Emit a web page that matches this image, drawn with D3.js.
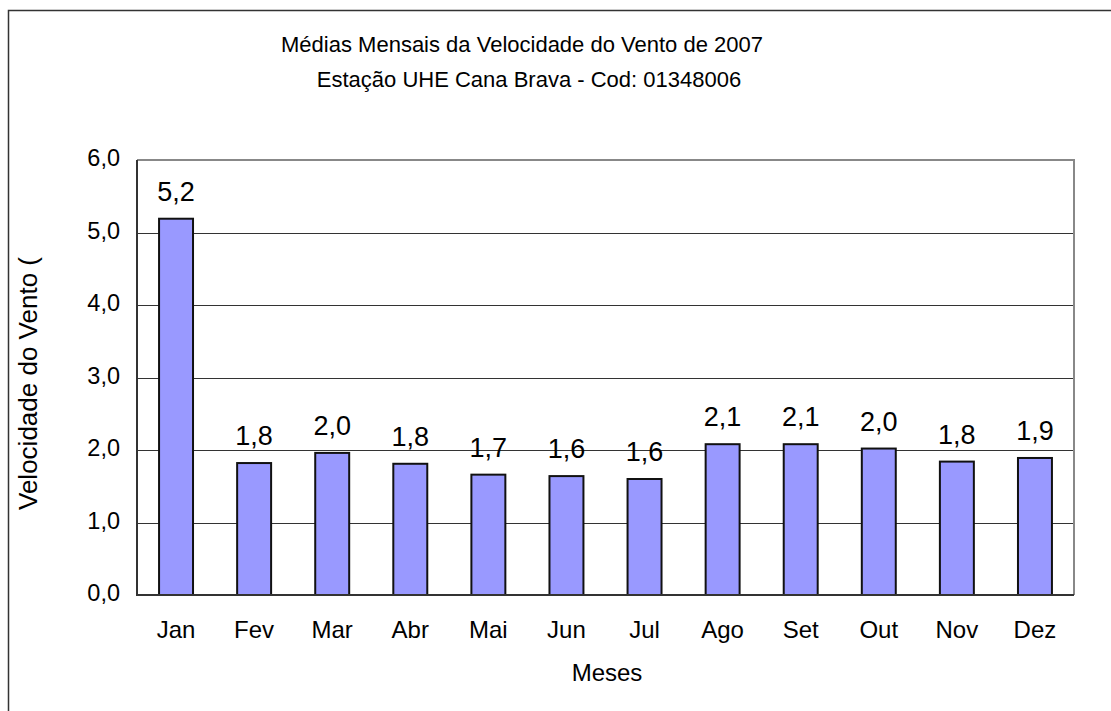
<!DOCTYPE html>
<html>
<head>
<meta charset="utf-8">
<script src="https://cdn.jsdelivr.net/npm/d3@7"></script>
<style>
body { margin: 0; background: #fff; }
svg { font-family: "Liberation Sans", Arial, sans-serif; }
</style>
</head>
<body>
<svg width="1111" height="711"></svg>
<script>
var width = 1111,
    height = 711;

var meses = ['Jan','Fev','Mar','Abr','Mai','Jun','Jul','Ago','Set','Out','Nov','Dez'];
var velocidade = [5.19, 1.82, 1.96, 1.81, 1.66, 1.64, 1.60, 2.08, 2.08, 2.02, 1.84, 1.89];
var yTicks = [0, 1, 2, 3, 4, 5, 6];

var margin = {left: 137, right: 1074, top: 160, bottom: 595};

var svg = d3.select('svg');

// moldura externa (só aparecem esquerda e topo)
svg.append('rect')
    .attr('x', 8.5).attr('y', 10.5)
    .attr('width', 1200).attr('height', 800)
    .attr('fill', 'none')
    .attr('stroke', '#333')
    .attr('stroke-width', 1.5);

var x = d3.scaleBand()
    .domain(meses)
    .range([margin.left, margin.right])
    .paddingInner(0.565)
    .paddingOuter(0.2825);

var y = d3.scaleLinear()
    .domain([0, 6])
    .range([margin.bottom, margin.top]);

// linhas de grade
svg.append('g')
    .selectAll('line')
    .data(yTicks.slice(1, -1))
    .enter()
    .append('line')
    .attr('x1', margin.left).attr('x2', margin.right)
    .attr('y1', function(d) { return Math.round(y(d)) + 0.5; })
    .attr('y2', function(d) { return Math.round(y(d)) + 0.5; })
    .attr('stroke', '#333')
    .attr('stroke-width', 1);

// borda da área de plotagem (topo e direita)
svg.append('path')
    .attr('d', 'M' + margin.left + ',' + margin.top + 'H' + margin.right + 'V' + margin.bottom)
    .attr('fill', 'none')
    .attr('stroke', '#888')
    .attr('stroke-width', 2);

// barras
svg.append('g')
    .selectAll('rect')
    .data(velocidade)
    .enter()
    .append('rect')
    .attr('x', function(d, i) { return x(meses[i]); })
    .attr('y', function(d) { return y(d); })
    .attr('width', x.bandwidth())
    .attr('height', function(d) { return y(0) - y(d); })
    .attr('fill', '#9999ff')
    .attr('stroke', '#111')
    .attr('stroke-width', 2);

// eixos
svg.append('path')
    .attr('d', 'M' + margin.left + ',' + margin.top + 'V' + margin.bottom + 'H' + margin.right)
    .attr('fill', 'none')
    .attr('stroke', '#333')
    .attr('stroke-width', 2);

var fmt = function(v) { return d3.format('.1f')(v).replace('.', ','); };

// rótulos eixo y
svg.append('g')
    .selectAll('text')
    .data(yTicks)
    .enter()
    .append('text')
    .attr('x', 120)
    .attr('y', function(d) { return y(d); })
    .attr('dy', '0.27em')
    .attr('text-anchor', 'end')
    .attr('font-size', 23.5)
    .text(fmt);

// rótulos meses
svg.append('g')
    .selectAll('text')
    .data(meses)
    .enter()
    .append('text')
    .attr('x', function(d) { return x(d) + x.bandwidth() / 2; })
    .attr('y', 638)
    .attr('text-anchor', 'middle')
    .attr('font-size', 24)
    .text(function(d) { return d; });

// valores sobre as barras
svg.append('g')
    .selectAll('text')
    .data(velocidade)
    .enter()
    .append('text')
    .attr('x', function(d, i) { return x(meses[i]) + x.bandwidth() / 2; })
    .attr('y', function(d) { return y(d) - 18; })
    .attr('text-anchor', 'middle')
    .attr('font-size', 27)
    .text(fmt);

// títulos
svg.append('text')
    .attr('x', 522).attr('y', 52)
    .attr('text-anchor', 'middle')
    .attr('font-size', 22)
    .text('Médias Mensais da Velocidade do Vento de 2007');

svg.append('text')
    .attr('x', 529).attr('y', 87)
    .attr('text-anchor', 'middle')
    .attr('font-size', 22)
    .text('Estação UHE Cana Brava - Cod: 01348006');

svg.append('text')
    .attr('x', 607).attr('y', 681)
    .attr('text-anchor', 'middle')
    .attr('font-size', 24)
    .text('Meses');

svg.append('text')
    .attr('transform', 'translate(37,510) rotate(-90)')
    .attr('text-anchor', 'start')
    .attr('font-size', 26)
    .text('Velocidade do Vento (');
</script>
</body>
</html>
